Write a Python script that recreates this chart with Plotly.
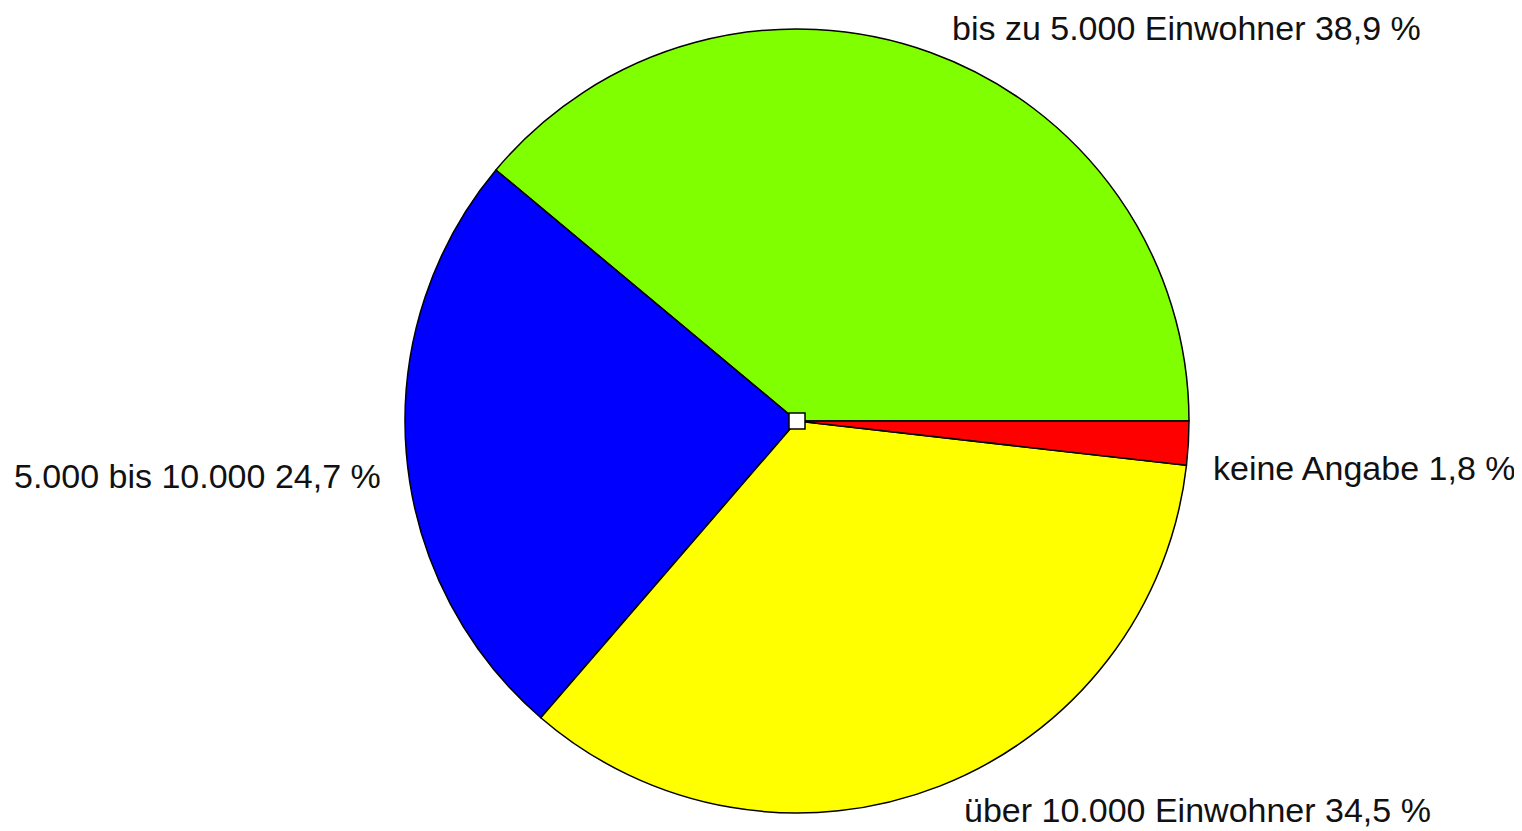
import plotly.graph_objects as go

categories = ["bis zu 5.000 Einwohner", "5.000 bis 10.000", "über 10.000 Einwohner", "keine Angabe"]
values = [38.9, 24.7, 34.5, 1.8]
colors = ["#80FF00", "#0000FF", "#FFFF00", "#FF0000"]

W, H = 1522, 831
OFF = 8  # browser body margin
cx, cy, r = 797 - OFF, 421 - OFF, 392

# first slice begins at 3 o'clock and runs counterclockwise
first_angle = values[0] / sum(values) * 360
rotation = 90 - first_angle

fig = go.Figure(go.Pie(
    labels=categories,
    values=values,
    sort=False,
    direction="counterclockwise",
    rotation=rotation,
    marker=dict(colors=colors, line=dict(color="black", width=1.5)),
    textinfo="none",
    hoverinfo="label+percent",
    showlegend=False,
    domain=dict(x=[(cx - r) / W, (cx + r) / W], y=[1 - (cy + r) / H, 1 - (cy - r) / H]),
))

# label positions (pixels in screenshot): (x, y, anchor)
label_pos = [(950, 28, "left"), (383, 476, "right"), (962, 810, "left"), (1211, 468, "left")]
for cat, val, (lx, ly, anc) in zip(categories, values, label_pos):
    txt = f"{cat} {str(val).replace('.', ',')} %"
    fig.add_annotation(
        x=(lx - OFF) / W, y=1 - (ly - OFF) / H, xref="paper", yref="paper",
        xanchor=anc, yanchor="middle", showarrow=False,
        text=txt, font=dict(family="Liberation Sans, Arial, sans-serif", size=34, color="#111111"),
    )

s = 8
fig.add_shape(type="rect", xref="paper", yref="paper",
              x0=(cx - s) / W, x1=(cx + s) / W, y0=1 - (cy + s) / H, y1=1 - (cy - s) / H,
              fillcolor="white", line=dict(color="black", width=1.5))

fig.update_layout(
    width=W, height=H,
    margin=dict(l=0, r=0, t=0, b=0),
    paper_bgcolor="white", plot_bgcolor="white",
)

fig.write_html("out.html")
